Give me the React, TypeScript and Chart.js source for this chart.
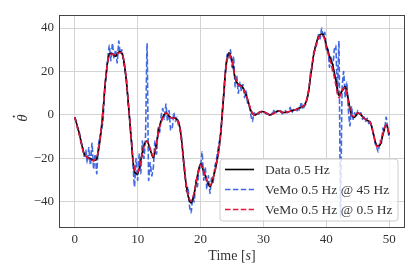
import React, { useEffect, useRef } from "react";
import { Chart, registerables } from "chart.js";

Chart.register(...registerables);

// ---- data ----
const X_TICKS = [0, 10, 20, 30, 40, 50];
const Y_TICKS = [-40, -20, 0, 20, 40];

// "Data 0.5 Hz", sampled every 0.5 s from t = 0 to 50
const DATA_STEP = 0.5;
const dataVals = [
  -1, -6, -12, -18, -19.5, -20, -21, -20, -12, 2,
  19, 28, 28, 27, 29, 28.5, 21, 6, -12, -26,
  -27, -21, -14, -12, -16, -19.5, -13, -5, -1, 1,
  -0.5, -1.5, -1.5, -3, -12, -27, -37, -40.5, -36, -28,
  -22.5, -26, -30, -33, -29, -23, -14, 2, 21, 28.5,
  25, 17, 14, 13.5, 11, 7, 2, 0, 0.5, 1.5,
  1.5, 0.8, 0, 0.5, 1.5, 1.8, 1.2, 1.2, 1.5, 2,
  2.3, 3, 3.5, 4.5, 8, 18, 28, 34, 37, 37,
  32, 27, 23, 16, 9, 11, 13, 7, 0, -1,
  1, 0, -1.5, -2.5, -3.5, -9, -14, -14, -9, -4.5,
  -9,
];

// "VeMo 0.5 Hz @ 0.5 Hz", same sampling
const redVals = [
  -1, -6.5, -12.5, -18, -19.5, -20.5, -21, -19.5, -11.5, 2.5,
  19, 27.5, 28, 27.5, 28.5, 28.5, 21.5, 6.5, -11.5, -25,
  -26.5, -21, -14.5, -12, -15.5, -19, -13, -5.5, -1.5, 1,
  -0.5, -1.5, -1.5, -3.5, -12.5, -27, -36.5, -39.5, -35.5, -28,
  -23, -26, -30, -32.5, -29, -23, -14, 2.5, 20.5, 28,
  25, 17.5, 14, 13, 11, 7, 2.5, 0, 0.5, 1.5,
  1.5, 0.8, 0, 0.5, 1.5, 1.8, 1.2, 1.2, 1.5, 2,
  2.3, 3, 3.5, 4.5, 8.5, 18, 28, 33.5, 36.5, 36.5,
  31, 26, 21, 14, 8, 11.5, 12.5, 6, 0, -0.5,
  1, 0, -1.5, -2.5, -3.5, -9, -14.5, -13.5, -8.5, -4.5,
  -9,
];

// "VeMo 0.5 Hz @ 45 Hz", sampled every 0.25 s from t = 0 to 50
const BLUE_STEP = 0.25;
const blueVals = [
  -1, -3, -7, -8,
  -13, -14, -19, -16,
  -22, -15, -23, -13,
  -25, -18, -27, -14,
  -10, -7, -3, 12,
  18, 26, 32, 25,
  33, 26, 30, 24,
  34, 28, 30, 25,
  20, 16, 5, -2,
  -10, -22, -33, -20,
  -30, -18, -27, -12,
  -20, -10, 33, -30,
  -22, -28, -24, -12,
  -18, -6, -8, 0,
  3, -2, 5, -3,
  2, -7, -6, 1,
  -3, -1, -5, -6,
  -11, -20, -25, -35,
  -33, -42, -45, -38,
  -40, -30, -33, -25,
  -24, -17, -30, -24,
  -34, -28, -36, -29,
  -31, -24, -21, -16,
  -12, -8, 4, 10,
  22, 28, 26, 30,
  22, 27, 13, 18,
  10, 15, 11, 14,
  8, 11, 5, 4,
  0, -3, 1, 0,
  1, 0.5, 1.5, 1,
  1.5, 1, 0.5, 0.5,
  0, 0.5, 1, 2.5,
  1, 2, 1.5, 2,
  0.5, 1.5, 2, 1,
  1.5, 3.5, 1, 2.5,
  2, 1.5, 3, 2,
  6, 2.5, 4, 5,
  9, 12, 20, 22,
  29, 30, 33, 37,
  35, 40, 36, 38,
  30, 31, 22, 27,
  20, 30, 32, 10,
  34, -47, 12, 20,
  8, 15, 2, -5,
  4, -2, 1, -1,
  2, 0.5, 1, -2,
  -1, -3, -1.5, -4,
  -3, -6, -9, -13,
  -15, -17, -12, -13,
  -6, -7, -1, -6,
  -11,
];

const LEGEND_LABELS = ["Data 0.5 Hz", "VeMo 0.5 Hz @ 45 Hz", "VeMo 0.5 Hz @ 0.5 Hz"];
const COLORS = { data: "#000000", blue: "#4169e1", red: "#e8143c" };

const toPts = (vals: number[], step: number) => vals.map((y, i) => ({ x: i * step, y }));
const SERIF = "'Liberation Serif', 'DejaVu Serif', serif";
const TEXT = "#333333";

const overlayPlugin = {
  id: "overlay",
  afterDraw(chart: any) {
    const { ctx, chartArea } = chart;
    const { left, right, top, bottom } = chartArea;
    ctx.save();
    // frame
    ctx.strokeStyle = "#444444";
    ctx.lineWidth = 1;
    ctx.setLineDash([]);
    ctx.strokeRect(left + 0.5, top + 0.5, right - left - 1, bottom - top - 1);

    // legend
    const lx = 220, ly = 159, lw = 178, lh = 62, r = 3;
    ctx.beginPath();
    ctx.moveTo(lx + r, ly);
    ctx.lineTo(lx + lw - r, ly);
    ctx.quadraticCurveTo(lx + lw, ly, lx + lw, ly + r);
    ctx.lineTo(lx + lw, ly + lh - r);
    ctx.quadraticCurveTo(lx + lw, ly + lh, lx + lw - r, ly + lh);
    ctx.lineTo(lx + r, ly + lh);
    ctx.quadraticCurveTo(lx, ly + lh, lx, ly + lh - r);
    ctx.lineTo(lx, ly + r);
    ctx.quadraticCurveTo(lx, ly, lx + r, ly);
    ctx.closePath();
    ctx.fillStyle = "rgba(255,255,255,0.8)";
    ctx.fill();
    ctx.strokeStyle = "#cccccc";
    ctx.lineWidth = 1;
    ctx.stroke();

    const styles = [
      { color: COLORS.data, dash: [] as number[] },
      { color: COLORS.blue, dash: [5.5, 2.4] },
      { color: COLORS.red, dash: [5.5, 2.4] },
    ];
    ctx.font = `13.5px ${SERIF}`;
    ctx.textBaseline = "middle";
    ctx.textAlign = "left";
    LEGEND_LABELS.forEach((label, i) => {
      const y = 169.5 + i * 20;
      ctx.beginPath();
      ctx.setLineDash(styles[i].dash);
      ctx.strokeStyle = styles[i].color;
      ctx.lineWidth = 1.6;
      ctx.moveTo(225, y);
      ctx.lineTo(254, y);
      ctx.stroke();
      ctx.setLineDash([]);
      ctx.fillStyle = TEXT;
      ctx.fillText(label, 265, y + 0.5);
    });

    // x title: Time [s] with italic s
    ctx.fillStyle = TEXT;
    ctx.textBaseline = "alphabetic";
    const fN = `14px ${SERIF}`;
    const fI = `italic 14px ${SERIF}`;
    const parts = [
      { t: "Time [", f: fN },
      { t: "s", f: fI },
      { t: "]", f: fN },
    ];
    let total = 0;
    parts.forEach((p) => { ctx.font = p.f; total += ctx.measureText(p.t).width; });
    let x = (left + right) / 2 - total / 2;
    parts.forEach((p) => {
      ctx.font = p.f;
      ctx.fillText(p.t, x, 259.5);
      x += ctx.measureText(p.t).width;
    });

    // y title: theta with a dot above, rotated
    ctx.translate(27, 118);
    ctx.rotate(-Math.PI / 2);
    ctx.font = `italic 15px ${SERIF}`;
    ctx.textAlign = "center";
    ctx.textBaseline = "alphabetic";
    ctx.fillText("\u03B8", 0, 0);
    ctx.beginPath();
    ctx.arc(1.5, -13.2, 1.1, 0, Math.PI * 2);
    ctx.fill();
    ctx.restore();
  },
};

const fmt = (v: number) => String(v).replace("-", "\u2212");

export default function App() {
  const ref = useRef<HTMLCanvasElement | null>(null);
  useEffect(() => {
    if (!ref.current) return;
    const gridColor = "#d3d3d3";
    const chart = new Chart(ref.current, {
      type: "line",
      data: {
        datasets: [
          {
            label: LEGEND_LABELS[2],
            data: toPts(redVals, DATA_STEP),
            borderColor: COLORS.red,
            borderWidth: 1.6,
            borderDash: [5.5, 2.4],
            pointRadius: 0,
            tension: 0.35,
            fill: false,
          },
          {
            label: LEGEND_LABELS[0],
            data: toPts(dataVals, DATA_STEP),
            borderColor: COLORS.data,
            borderWidth: 1.6,
            pointRadius: 0,
            tension: 0.35,
            fill: false,
          },
          {
            label: LEGEND_LABELS[1],
            data: toPts(blueVals, BLUE_STEP),
            borderColor: COLORS.blue,
            borderWidth: 1.6,
            borderDash: [5.5, 2.4],
            pointRadius: 0,
            tension: 0.15,
            fill: false,
          },
        ],
      },
      options: {
        animation: false,
        responsive: false,
        events: [],
        layout: { padding: { left: 0, top: 15, right: 15, bottom: 0 } },
        plugins: { legend: { display: false }, tooltip: { enabled: false } },
        scales: {
          x: {
            type: "linear",
            min: -2.5,
            max: 52.5,
            afterBuildTicks: (s: any) => { s.ticks = X_TICKS.map((v) => ({ value: v })); },
            afterFit: (s: any) => { s.height = 50; },
            grid: { color: gridColor, lineWidth: 1, drawTicks: false, tickLength: 0 },
            border: { display: false },
            ticks: {
              padding: 4,
              color: TEXT,
              font: { family: SERIF, size: 13 },
              maxRotation: 0,
              callback: (v: any) => fmt(v),
            },
          },
          y: {
            type: "linear",
            min: -52,
            max: 46,
            afterBuildTicks: (s: any) => { s.ticks = Y_TICKS.map((v) => ({ value: v })); },
            afterFit: (s: any) => { s.width = 59; },
            grid: { color: gridColor, lineWidth: 1, drawTicks: false, tickLength: 0 },
            border: { display: false },
            ticks: {
              padding: 5,
              color: TEXT,
              font: { family: SERIF, size: 13 },
              callback: (v: any) => fmt(v),
            },
          },
        },
      },
      plugins: [overlayPlugin],
    });
    return () => chart.destroy();
  }, []);
  return (
    <div style={{ position: "absolute", left: 0, top: 0, width: 420, height: 278, background: "#fff" }}>
      <canvas ref={ref} width={420} height={278} style={{ display: "block" }} />
    </div>
  );
}
